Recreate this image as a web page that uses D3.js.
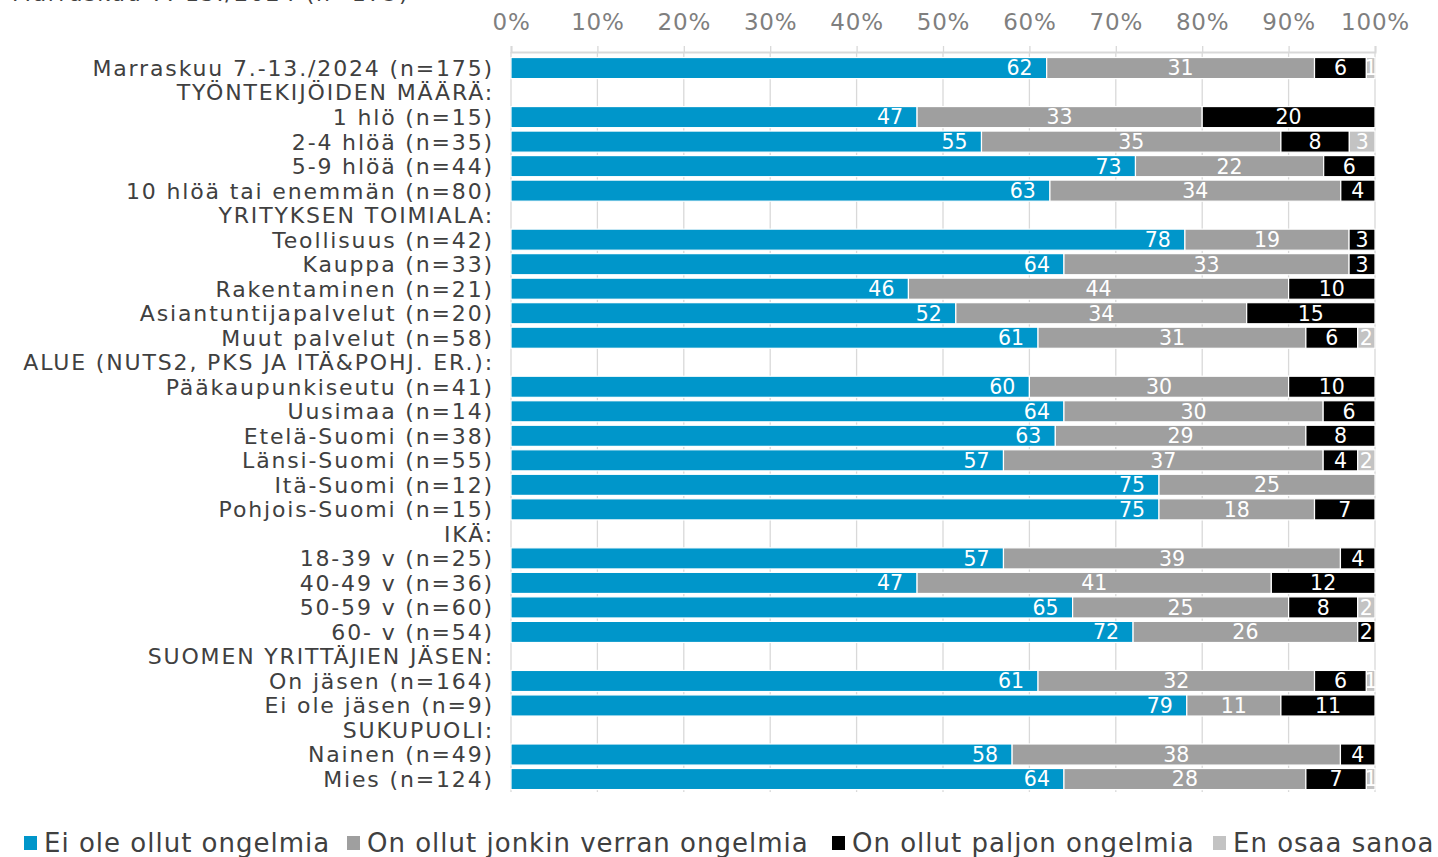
<!DOCTYPE html>
<html><head><meta charset="utf-8">
<script src="https://cdn.jsdelivr.net/npm/d3@7"></script>
<style>body{margin:0;background:#fff;overflow:hidden}svg{display:block}</style>
</head><body>
<svg id="c" width="1438" height="857"></svg>
<script>
const title = "Marraskuu 7.-13./2024 (n=175)";
const categories = [
 "Marraskuu 7.-13./2024 (n=175)","TYÖNTEKIJÖIDEN MÄÄRÄ:","1 hlö (n=15)","2-4 hlöä (n=35)","5-9 hlöä (n=44)","10 hlöä tai enemmän (n=80)",
 "YRITYKSEN TOIMIALA:","Teollisuus (n=42)","Kauppa (n=33)","Rakentaminen (n=21)","Asiantuntijapalvelut (n=20)","Muut palvelut (n=58)",
 "ALUE (NUTS2, PKS JA ITÄ&POHJ. ER.):","Pääkaupunkiseutu (n=41)","Uusimaa (n=14)","Etelä-Suomi (n=38)","Länsi-Suomi (n=55)","Itä-Suomi (n=12)","Pohjois-Suomi (n=15)",
 "IKÄ:","18-39 v (n=25)","40-49 v (n=36)","50-59 v (n=60)","60- v (n=54)",
 "SUOMEN YRITTÄJIEN JÄSEN:","On jäsen (n=164)","Ei ole jäsen (n=9)",
 "SUKUPUOLI:","Nainen (n=49)","Mies (n=124)"];
const seriesNames = ["Ei ole ollut ongelmia","On ollut jonkin verran ongelmia","On ollut paljon ongelmia","En osaa sanoa"];
const eiOngelmia   = [62,null,47,55,73,63,null,78,64,46,52,61,null,60,64,63,57,75,75,null,57,47,65,72,null,61,79,null,58,64];
const jonkinVerran = [31,null,33,35,22,34,null,19,33,44,34,31,null,30,30,29,37,25,18,null,39,41,25,26,null,32,11,null,38,28];
const paljon       = [6,null,20,8,6,4,null,3,3,10,15,6,null,10,6,8,4,0,7,null,4,12,8,2,null,6,11,null,4,7];
const enOsaa       = [1,null,0,3,0,0,null,0,0,0,0,2,null,0,0,0,2,0,0,null,0,0,2,0,null,1,0,null,0,1];
const tickLabels = ["0%","10%","20%","30%","40%","50%","60%","70%","80%","90%","100%"];
const colors = ["#0096CA","#9F9F9F","#000000","#C3C3C3"];

const font = "DejaVu Sans, Verdana, sans-serif";
const svg = d3.select("#c");
const x = d3.scaleLinear().domain([0,1]).range([511,1375]);
const y = d3.scaleBand().domain(categories).range([55.8,791.3]).paddingInner(0.14).paddingOuter(0.07);

// gridlines
const ticks = d3.range(0,1.0001,0.1);
svg.append("g").selectAll("line").data(ticks).join("line")
  .attr("x1",d=>x(d)).attr("x2",d=>x(d)).attr("y1",52).attr("y2",792)
  .attr("stroke","#d9d9d9").attr("stroke-width",1.3);

// top axis
const axis = d3.axisTop(x).tickValues(ticks).tickSize(6).tickFormat((d,i)=>tickLabels[i]);
const ag = svg.append("g").attr("transform","translate(0,52)").call(axis);
ag.select(".domain").attr("stroke","#d9d9d9").attr("stroke-width",2);
ag.selectAll(".tick line").attr("stroke","#d9d9d9").attr("stroke-width",1.3);
ag.selectAll(".tick text").attr("font-family",font).attr("font-size",23).attr("fill","#7f7f7f")
  .attr("letter-spacing",0.8).attr("dy",0).attr("y",-22);

// data
const rows = categories.map((c,i)=>({cat:c, v:[eiOngelmia[i],jonkinVerran[i],paljon[i],enOsaa[i]]}))
  .filter(r=>r.v[0]!==null);
const segs = [];
rows.forEach(r=>{
  const tot = d3.sum(r.v); let acc = 0;
  r.v.forEach((v,k)=>{ segs.push({cat:r.cat,k,v,x0:acc/tot,x1:(acc+v)/tot}); acc+=v; });
});
const bg = svg.append("g");
bg.selectAll("rect").data(segs.filter(s=>s.v>0)).join("rect")
  .attr("x",d=>x(d.x0)).attr("width",d=>x(d.x1)-x(d.x0))
  .attr("y",d=>y(d.cat)).attr("height",y.bandwidth())
  .attr("fill",d=>colors[d.k]).attr("stroke","#fff").attr("stroke-width",1.2);
bg.selectAll("text").data(segs.filter(s=>s.v>0)).join("text")
  .attr("x",d=>d.k===0 ? x(d.x1)-14 : (x(d.x0)+x(d.x1))/2).attr("y",d=>y(d.cat)+y.bandwidth()/2)
  .attr("dy","0.36em").attr("text-anchor",d=>d.k===0?"end":"middle")
  .attr("font-family",font).attr("font-size",20.5).attr("fill","#fff")
  .text(d=>d.v);

// category labels
svg.append("g").selectAll("text").data(categories).join("text")
  .attr("x",494).attr("y",d=>y(d)+y.bandwidth()/2).attr("dy","0.36em")
  .attr("text-anchor","end").attr("font-family",font).attr("font-size",22).attr("letter-spacing",1.85)
  .attr("fill","#404040").text(d=>d);

// title (cut off)
svg.append("text").attr("x",12).attr("y",1).attr("font-family",font).attr("font-size",22)
  .attr("letter-spacing",1.7).attr("fill","#404040").text(title);

// legend
const legX = [24,347,832,1213];
const lg = svg.append("g").selectAll("g").data(seriesNames).join("g")
  .attr("transform",(d,i)=>`translate(${legX[i]},843)`);
lg.append("rect").attr("x",0).attr("y",-7).attr("width",13).attr("height",14).attr("fill",(d,i)=>colors[i]);
lg.append("text").attr("x",20).attr("dy","0.36em").attr("font-family",font).attr("font-size",26)
  .attr("letter-spacing",1.0).attr("fill","#404040").text(d=>d);
</script>
</body></html>
